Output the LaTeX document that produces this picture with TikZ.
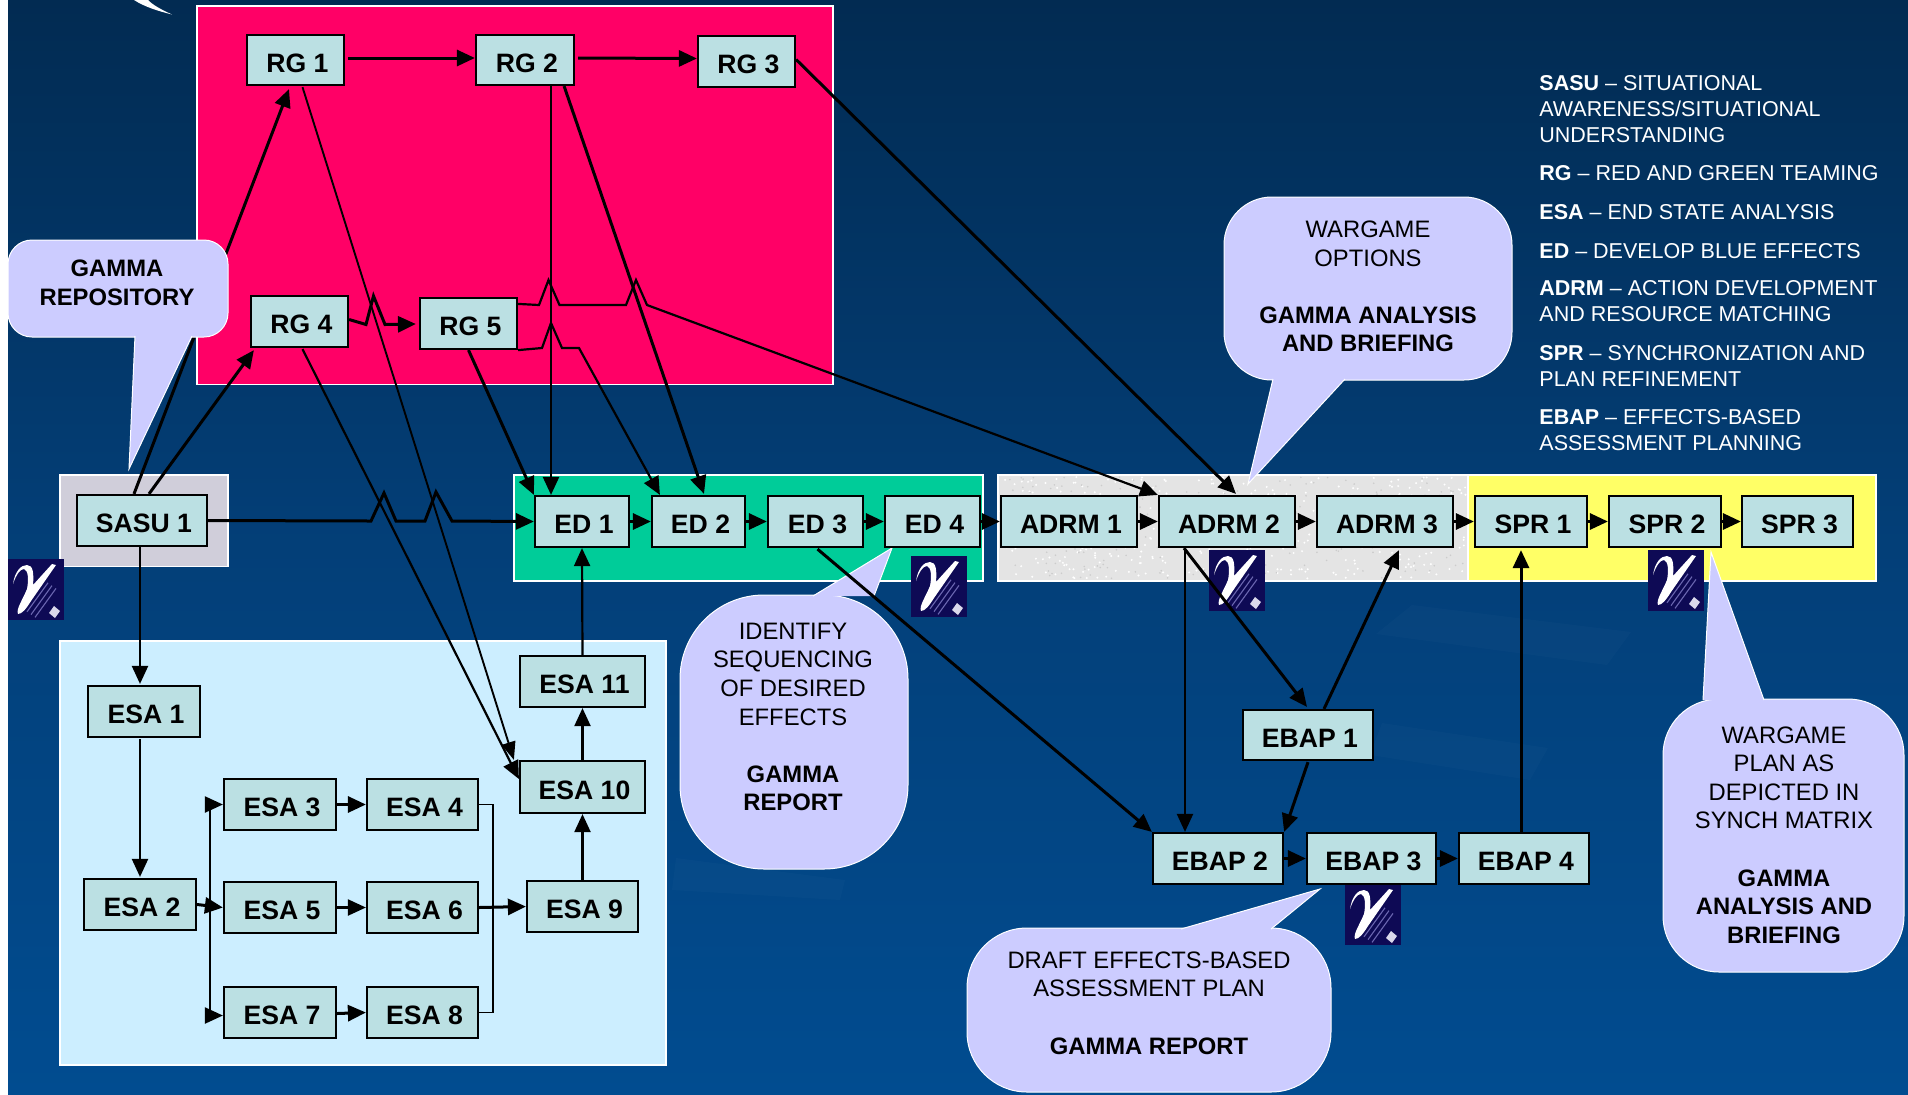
\documentclass[tikz,border=0pt]{standalone}
\usepackage{fontspec}
\setmainfont{Liberation Sans}
\usetikzlibrary{arrows.meta,shadings}
\definecolor{bgtop}{HTML}{022B52}
\definecolor{bgmid}{HTML}{033F78}
\definecolor{bgbot}{HTML}{014C90}
\definecolor{pinkp}{HTML}{FF0066}
\definecolor{greenp}{HTML}{00CC99}
\definecolor{skyp}{HTML}{CCEEFF}
\definecolor{yellowp}{HTML}{FFFF66}
\definecolor{greyp}{HTML}{D0CEDA}
\definecolor{texp}{HTML}{E4E4E4}
\definecolor{boxfill}{HTML}{BBE0E3}
\definecolor{callfill}{HTML}{CCCCFF}
\definecolor{logobg}{HTML}{0E0A55}
\definecolor{logoln}{HTML}{6A66B0}
\tikzset{
  x=0.5pt,y=-0.5pt,
  panel/.style={draw=white,line width=0.7pt},
  flowbox/.style={draw=black,line width=1.1pt,fill=boxfill,inner sep=0pt,text height=12pt,text depth=0pt,font=\fontsize{13.3}{15}\selectfont\bfseries},
  arrthick/.style={line width=1.5pt,-{Triangle[length=9pt,width=8pt]}},
  arrmed/.style={line width=1.1pt,-{Triangle[length=9pt,width=8pt]}},
  arrthin/.style={line width=0.95pt,-{Triangle[length=9pt,width=7pt]}},
  link/.style={line width=0.8pt},
  callout/.style={draw=white,line width=0.5pt,fill=callfill},
  calltail/.style={fill=callfill},
  tailedge/.style={draw=white,line width=0.5pt},
  calltext/.style={align=center,inner sep=0pt,font=\fontsize{11.9}{14.3}\selectfont},
  legend/.style={anchor=north west,align=left,inner sep=0pt,text=white,font=\fontsize{10.75}{13}\selectfont},
  faint/.style={fill=white,fill opacity=0.02}
}
\newcommand{\bx}[6]{%
  \pgfmathsetmacro\bw{(#4-#2)*0.5}%
  \pgfmathsetmacro\bh{(#5-#3)*0.5}%
  \node[flowbox,minimum width=\bw pt,minimum height=\bh pt] (#1) at ({(#2+#4)/2},{(#3+#5)/2}) {\hspace*{2pt}#6};}
% rounded body, then a tail whose base hides the border: x1 y1 x2 y2 radius / base1 tip base2
\newcommand{\bubble}[8]{%
  \draw[callout,rounded corners=#5pt] (#1,#2) rectangle (#3,#4);
  \fill[calltail] (#6) -- (#7) -- (#8) -- cycle;
  \draw[tailedge] (#6) -- (#7) -- (#8);}
\newcommand{\glogo}[2]{%
  \begin{scope}[shift={(#1,#2)}]
    \fill[logobg] (0,0) rectangle (56,61);
    \foreach \d in {0,4,8,12}{\draw[logoln,line width=0.55pt] (36+\d,21+\d*0.7) -- (15+\d,50+\d*0.7);}
    \fill[white!75!logoln] (46,47) -- (52,52) -- (47,59) -- (41,54) -- cycle;
    \fill[white] (5,25) .. controls (7,12) and (13,6) .. (19,6) .. controls (25,6) and (26,14) .. (25,26) -- (44,5) -- (48,6) -- (23,42) .. controls (18,50) and (14,55) .. (10,55) .. controls (8,50) and (14,42) .. (19,30) .. controls (21,20) and (20,11) .. (16,10) .. controls (12,10) and (8,16) .. (5,25) -- cycle;
  \end{scope}}
\begin{document}
\begin{tikzpicture}
\useasboundingbox (0,0) rectangle (1908,1094);
\fill[white] (0,0) rectangle (1908,1094);
\shade[top color=bgtop,bottom color=bgbot,middle color=bgmid] (8,0) rectangle (1908,1094);
\fill[faint] (1412,605) -- (1631,632) -- (1607,665) -- (1376,634) -- cycle;
\fill[faint] (1382,723) -- (1548,748) -- (1530,780) -- (1370,755) -- cycle;
\fill[faint] (676,858) -- (845,880) -- (840,900) -- (672,890) -- cycle;
\fill[white] (134,0) .. controls (145,7) and (158,11) .. (172,14.5) .. controls (160,9) and (153,5) .. (148,0) -- cycle;
% panels
\draw[panel,fill=pinkp] (197,6) rectangle (833,384.5);
\draw[panel,fill=greyp] (60,475) rectangle (228,566.5);
\draw[panel,fill=greenp] (514,475) rectangle (983,581);
\draw[panel,fill=skyp] (60,641) rectangle (666,1065);
\fill[texp] (998,475) rectangle (1468,581);
\pgfmathsetseed{4242}
\foreach \i in {1,...,420}{\pgfmathsetmacro\px{1000+466*rnd}\pgfmathsetmacro\py{477+102*rnd}\fill[white] (\px,\py) circle (1.1);}
\foreach \i in {1,...,220}{\pgfmathsetmacro\px{1000+466*rnd}\pgfmathsetmacro\py{477+102*rnd}\fill[black!20] (\px,\py) circle (0.9);}
\draw[white,line width=0.7pt] (1468,475) -- (998,475) -- (998,581) -- (1468,581);
\draw[panel,fill=yellowp] (1468,475) rectangle (1876,581);
% callouts below the flow
\bubble{680}{595}{908}{869}{42}{813,596}{892,548}{874,596}
\bubble{1224}{197}{1512}{380}{24}{1273,379}{1248,484}{1345,379}
\bubble{1663}{699}{1904}{972}{28}{1703,700}{1711,552}{1764,700}
\bubble{967}{928}{1331}{1092}{30}{1181,929}{1320,889}{1271,929}
\node[calltext] (tident) at (793,717) {IDENTIFY\\SEQUENCING\\OF DESIRED\\EFFECTS\\[14.3pt]\textbf{GAMMA}\\\textbf{REPORT}};
\node[calltext] (twopt) at (1368,286.5) {WARGAME\\OPTIONS\\[14.3pt]\textbf{GAMMA ANALYSIS}\\\textbf{AND BRIEFING}};
\node[calltext] (tplan) at (1784,835) {WARGAME\\PLAN AS\\DEPICTED IN\\SYNCH MATRIX\\[14.3pt]\textbf{GAMMA}\\\textbf{ANALYSIS AND}\\\textbf{BRIEFING}};
\node[calltext] (tdraft) at (1149,1003) {DRAFT EFFECTS-BASED\\ASSESSMENT PLAN\\[14.3pt]\textbf{GAMMA REPORT}};
% logos
\glogo{8}{559}
\glogo{911}{556}
\glogo{1209}{550}
\glogo{1648}{550}
\glogo{1345}{884}
% nodes
\bx{rg1}{247}{35}{344}{85}{RG 1}
\bx{rg2}{476}{35}{574}{85}{RG 2}
\bx{rg3}{698}{36}{795}{87}{RG 3}
\bx{rg4}{251}{296}{348}{347}{RG 4}
\bx{rg5}{420}{298}{517}{349}{RG 5}
\bx{sasu}{77}{495}{207}{546}{SASU 1}
\bx{ed1}{535}{496}{629}{547}{ED 1}
\bx{ed2}{652}{496}{745}{547}{ED 2}
\bx{ed3}{768}{496}{863}{547}{ED 3}
\bx{ed4}{885}{496}{980}{547}{ED 4}
\bx{adrm1}{1001}{496}{1137}{547}{ADRM 1}
\bx{adrm2}{1159}{496}{1295}{547}{ADRM 2}
\bx{adrm3}{1317}{496}{1453}{547}{ADRM 3}
\bx{spr1}{1475}{496}{1587}{547}{SPR 1}
\bx{spr2}{1609}{496}{1721}{547}{SPR 2}
\bx{spr3}{1742}{496}{1853}{547}{SPR 3}
\bx{ebap1}{1243}{710}{1373}{760}{EBAP 1}
\bx{ebap2}{1153}{833}{1283}{884}{EBAP 2}
\bx{ebap3}{1307}{833}{1436}{884}{EBAP 3}
\bx{ebap4}{1459}{833}{1589}{884}{EBAP 4}
\bx{esa1}{88}{686}{200}{737}{ESA 1}
\bx{esa2}{84}{879}{196}{930}{ESA 2}
\bx{esa3}{224}{779}{336}{830}{ESA 3}
\bx{esa4}{367}{779}{478}{830}{ESA 4}
\bx{esa5}{224}{882}{336}{933}{ESA 5}
\bx{esa6}{367}{882}{478}{933}{ESA 6}
\bx{esa7}{224}{987}{336}{1038}{ESA 7}
\bx{esa8}{367}{987}{478}{1038}{ESA 8}
\bx{esa9}{527}{881}{638}{932}{ESA 9}
\bx{esa10}{520}{761}{645}{813}{ESA 10}
\bx{esa11}{520}{656}{645}{707}{ESA 11}
% connectors
\draw[arrthick] ([shift={(3,-2)}]rg1.east) -- ([shift={(0,-2)}]rg2.west);
\draw[arrthick] ([shift={(3,-2)}]rg2.east) -- ([shift={(0,-3)}]rg3.west);
\draw[arrthick] ([shift={(0,-2)}]rg3.east) -- ([shift={(9,-1)}]adrm2.north);
\draw[arrthick] ([shift={(-8,0)}]sasu.north) -- ([shift={(-6.5,3)}]rg1.south);
\draw[arrthick] ([shift={(7,0)}]sasu.north) -- ([shift={(4,2)}]rg4.south west);
\draw[arrthick] (sasu.east) -- (371,521) -- (384,493) -- (396,521) -- (425,521) -- (436,492) -- (452,521) -- (ed1.west);
\draw[arrthin] ([shift={(7,1)}]rg1.south) -- ([shift={(-5,0)}]esa10.north west);
\draw[arrmed] ([shift={(3,1)}]rg4.south) -- ([shift={(0,-8)}]esa10.west);
\draw[arrthick] ([shift={(0,-2)}]rg4.east) -- (366,324.5) -- (373.5,296) -- (385,324.5) -- ([shift={(-3,0.5)}]rg5.west);
\draw[arrthick] (rg5.south) -- (ed1.north west);
\draw[arrmed] (rg5.south east) -- (542,348) -- (551,323) -- (562,348) -- (579,348) -- ([shift={(9,0)}]ed2.north west);
\draw[arrmed] ([shift={(0,7)}]rg5.north east) -- (539,305) -- (548.5,280) -- (559.5,305) -- (626,305) -- (636,280) -- (647,305) -- (adrm2.north west);
\draw[arrmed] ([shift={(26,0)}]rg2.south) -- ([shift={(-31,0)}]ed1.north);
\draw[arrthick] ([shift={(-11,0)}]rg2.south east) -- ([shift={(5.5,-1)}]ed2.north);
\draw[arrthick] (ed1.east) -- (ed2.west);
\draw[arrthick] (ed2.east) -- (ed3.west);
\draw[arrthick] (ed3.east) -- (ed4.west);
\draw[arrthick] (ed4.east) -- (adrm1.west);
\draw[arrthick] ([shift={(2,1)}]ed3.south) -- (ebap2.north west);
\draw[arrmed] (esa11.north) -- (ed1.south);
\draw[arrmed] (esa10.north) -- (esa11.south);
\draw[arrmed] (esa9.north) -- (esa9.north |- esa10.south);
\draw[arrmed] ([shift={(-2,0)}]sasu.south) -- ([shift={(-4,-1)}]esa1.north);
\draw[arrmed] ([shift={(-4,1)}]esa1.south) -- ([shift={(0,-1)}]esa2.north);
\draw[arrthick] (esa2.east) -- (esa5.west);
\coordinate (sp) at (210,905);
\draw[arrmed] (sp) |- (esa3.west);
\draw[arrmed] (sp) |- ([shift={(0,3)}]esa7.west);
\draw[arrthick] (esa3.east) -- (esa4.west);
\draw[arrmed] (esa5.east) -- (esa6.west);
\draw[arrthick] ([shift={(0,1)}]esa7.east) -- ([shift={(0,0)}]esa8.west);
\draw[link] (esa4.east) -| (493,907);
\draw[link] (esa8.east) -| (493,907);
\draw[arrthick] (esa6.east) -- (esa9.west);
\draw[arrthick] (adrm1.east) -- (adrm2.west);
\draw[arrthick] (adrm2.east) -- (adrm3.west);
\draw[arrthick] (adrm3.east) -- (spr1.west);
\draw[arrthick] (spr1.east) -- (spr2.west);
\draw[arrthick] (spr2.east) -- (spr3.west);
\draw[arrthick] ([shift={(-43,0)}]adrm2.south) -- ([shift={(-1,-2)}]ebap1.north);
\draw[arrmed] ([shift={(-42,0)}]adrm2.south) -- ([shift={(-33,0)}]ebap2.north);
\draw[arrthick] ([shift={(16,0)}]ebap1.north) -- ([shift={(14,2)}]adrm3.south);
\draw[arrthick] ([shift={(0,1)}]ebap1.south) -- (ebap2.north east);
\draw[arrthick] (ebap2.east) -- (ebap3.west);
\draw[arrthick] (ebap3.east) -- (ebap4.west);
\draw[arrthick] ([shift={(-3,0)}]ebap4.north) -- ([shift={(-10,2)}]spr1.south);
% callout above the flow
\bubble{8}{240}{228}{337}{12}{135,336}{129,469}{192,336}
\node[calltext] (trepo) at (117,283) {\textbf{GAMMA}\\\textbf{REPOSITORY}};
% legend
\node[legend] (l1) at (1539,75.5) {\textbf{SASU} – SITUATIONAL\\AWARENESS/SITUATIONAL\\UNDERSTANDING};
\node[legend] (l2) at (1539,165.5) {\textbf{RG} – RED AND GREEN TEAMING};
\node[legend] (l3) at (1539,204.5) {\textbf{ESA} – END STATE ANALYSIS};
\node[legend] (l4) at (1539,243.5) {\textbf{ED} – DEVELOP BLUE EFFECTS};
\node[legend] (l5) at (1539,280.5) {\textbf{ADRM} – ACTION DEVELOPMENT\\AND RESOURCE MATCHING};
\node[legend] (l6) at (1539,345.5) {\textbf{SPR} – SYNCHRONIZATION AND\\PLAN REFINEMENT};
\node[legend] (l7) at (1539,409.5) {\textbf{EBAP} – EFFECTS-BASED\\ASSESSMENT PLANNING};
\end{tikzpicture}
\end{document}
